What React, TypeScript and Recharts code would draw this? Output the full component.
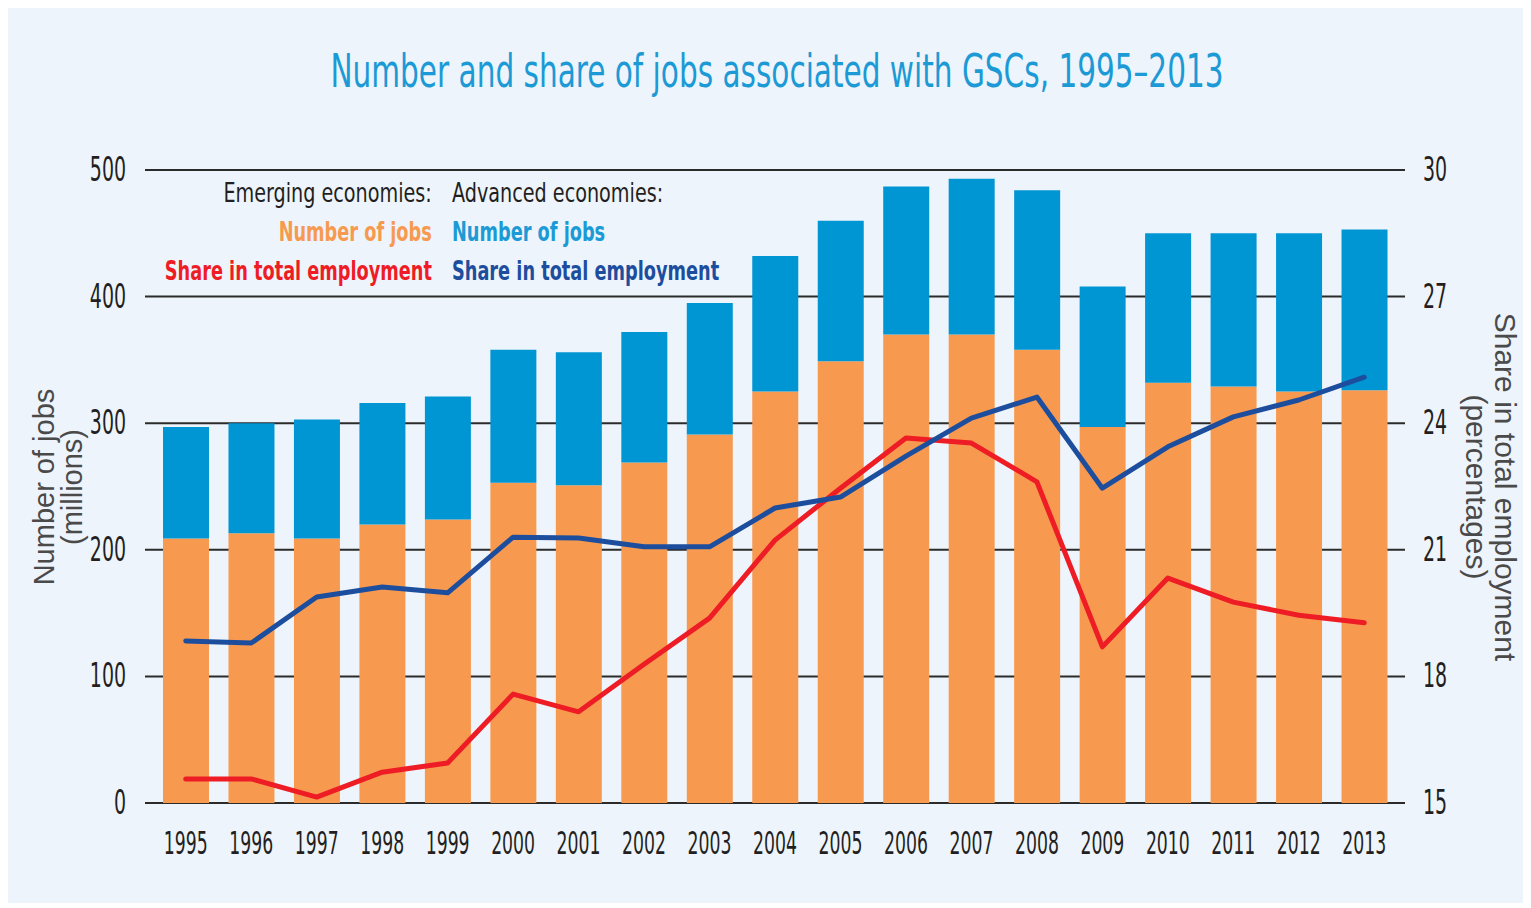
import React from "react";
import { ComposedChart, Bar, Line, XAxis, YAxis, CartesianGrid } from "recharts";

const years = ["1995","1996","1997","1998","1999","2000","2001","2002","2003","2004","2005","2006","2007","2008","2009","2010","2011","2012","2013"];
const emergingJobs = [209, 213, 209, 220, 224, 253, 251, 269, 291, 325, 349, 370, 370, 358, 297, 332, 329, 325, 326];
const advancedJobs = [88, 87, 94, 96, 97, 105, 105, 103, 104, 107, 111, 117, 123, 126, 111, 118, 121, 125, 127];
const emergingShare = [15.57, 15.57, 15.14, 15.73, 15.95, 17.58, 17.16, 18.29, 19.38, 21.23, 22.46, 23.65, 23.53, 22.61, 18.7, 20.33, 19.76, 19.45, 19.27];
const advancedShare = [18.84, 18.79, 19.88, 20.12, 19.98, 21.3, 21.28, 21.07, 21.07, 21.99, 22.25, 23.22, 24.12, 24.62, 22.46, 23.44, 24.15, 24.55, 25.09];
const leftTicks = [0, 100, 200, 300, 400, 500];
const rightTicks = [15, 18, 21, 24, 27, 30];

const data = years.map((y, i) => ({
  year: y,
  emerging: emergingJobs[i],
  advanced: advancedJobs[i],
  eShare: emergingShare[i],
  aShare: advancedShare[i],
}));

const NARROW = "'Liberation Sans Narrow', 'DejaVu Sans Condensed', sans-serif";
const TICK_COLOR = "#231f20";

const LeftTick = (props: any) => {
  const { x, y, payload } = props;
  return (
    <text transform={`translate(${x - 11},${y + 11}) scale(0.62,1)`} textAnchor="end" fontFamily={NARROW} fontSize={34} fill={TICK_COLOR}>
      {payload.value}
    </text>
  );
};
const RightTick = (props: any) => {
  const { x, y, payload } = props;
  return (
    <text transform={`translate(${x + 10},${y + 11}) scale(0.62,1)`} textAnchor="start" fontFamily={NARROW} fontSize={34} fill={TICK_COLOR}>
      {payload.value}
    </text>
  );
};
const BottomTick = (props: any) => {
  const { x, y, payload } = props;
  return (
    <text transform={`translate(${x},${y + 43}) scale(0.6,1)`} textAnchor="middle" fontFamily={NARROW} fontSize={32} fill={TICK_COLOR}>
      {payload.value}
    </text>
  );
};

const legendRow = (top: number, right: boolean, bold: boolean) => ({
  position: "absolute" as const,
  top,
  height: 30,
  lineHeight: "30px",
  fontFamily: NARROW,
  fontSize: 27,
  fontWeight: bold ? ("bold" as const) : ("normal" as const),
  whiteSpace: "nowrap" as const,
  transform: `scaleX(${bold ? 0.73 : 0.79})`,
  transformOrigin: right ? "right center" : "left center",
  ...(right ? { right: 1515 - 424 } : { left: 444 }),
});

export default function App() {
  return (
    <div style={{ position: "relative", width: 1515, height: 895, background: "#eef4fb", overflow: "hidden" }}>
      <div style={{ position: "absolute", left: 769, top: 38, transform: "translateX(-50%) scaleX(0.714)", color: "#1b9ad6", fontFamily: NARROW, fontSize: 46, whiteSpace: "nowrap", lineHeight: "50px" }}>
        Number and share of jobs associated with GSCs, 1995–2013
      </div>
      <ComposedChart
        width={1515}
        height={895}
        data={data}
        margin={{ top: 162, left: 77, right: 58, bottom: 60 }}
        style={{ position: "absolute", left: 0, top: 0 }}
      >
        <CartesianGrid yAxisId="left" vertical={false} stroke="#2b2b2b" strokeWidth={2} />
        <XAxis dataKey="year" axisLine={false} tickLine={false} tick={<BottomTick />} height={40} padding={{ left: 8, right: 8 }} interval={0} />
        <YAxis yAxisId="left" domain={[0, 500]} ticks={leftTicks} axisLine={false} tickLine={false} tick={<LeftTick />} width={60} />
        <YAxis yAxisId="right" orientation="right" domain={[15, 30]} ticks={rightTicks} axisLine={false} tickLine={false} tick={<RightTick />} width={60} />
        <Bar yAxisId="left" dataKey="emerging" stackId="a" fill="#f79a50" barSize={46} isAnimationActive={false} />
        <Bar yAxisId="left" dataKey="advanced" stackId="a" fill="#0096d3" barSize={46} isAnimationActive={false} />
        <Line yAxisId="right" dataKey="eShare" stroke="#ee1c25" strokeWidth={5} dot={false} strokeLinejoin="round" strokeLinecap="round" isAnimationActive={false} />
        <Line yAxisId="right" dataKey="aShare" stroke="#1d4e9e" strokeWidth={5} dot={false} strokeLinejoin="round" strokeLinecap="round" isAnimationActive={false} />
      </ComposedChart>
      <div style={{ ...legendRow(170, true, false), color: "#231f20" }}>Emerging economies:</div>
      <div style={{ ...legendRow(170, false, false), color: "#231f20" }}>Advanced economies:</div>
      <div style={{ ...legendRow(209, true, true), color: "#f79a50" }}>Number of jobs</div>
      <div style={{ ...legendRow(209, false, true), color: "#1b9ad6" }}>Number of jobs</div>
      <div style={{ ...legendRow(248, true, true), color: "#ee1c25" }}>Share in total employment</div>
      <div style={{ ...legendRow(248, false, true), color: "#1d4e9e" }}>Share in total employment</div>
      <div style={{ position: "absolute", left: 50, top: 479, transform: "translate(-50%,-50%) rotate(-90deg)", textAlign: "center", color: "#4a4a4a", fontFamily: "'Liberation Sans', Arial, sans-serif", fontSize: 29, lineHeight: "28px", whiteSpace: "nowrap" }}>
        Number of jobs<br />(millions)
      </div>
      <div style={{ position: "absolute", left: 1483, top: 479, transform: "translate(-50%,-50%) rotate(90deg)", textAlign: "center", color: "#4a4a4a", fontFamily: "'Liberation Sans', Arial, sans-serif", fontSize: 30, lineHeight: "29px", whiteSpace: "nowrap" }}>
        Share in total employment<br />(percentages)
      </div>
    </div>
  );
}
